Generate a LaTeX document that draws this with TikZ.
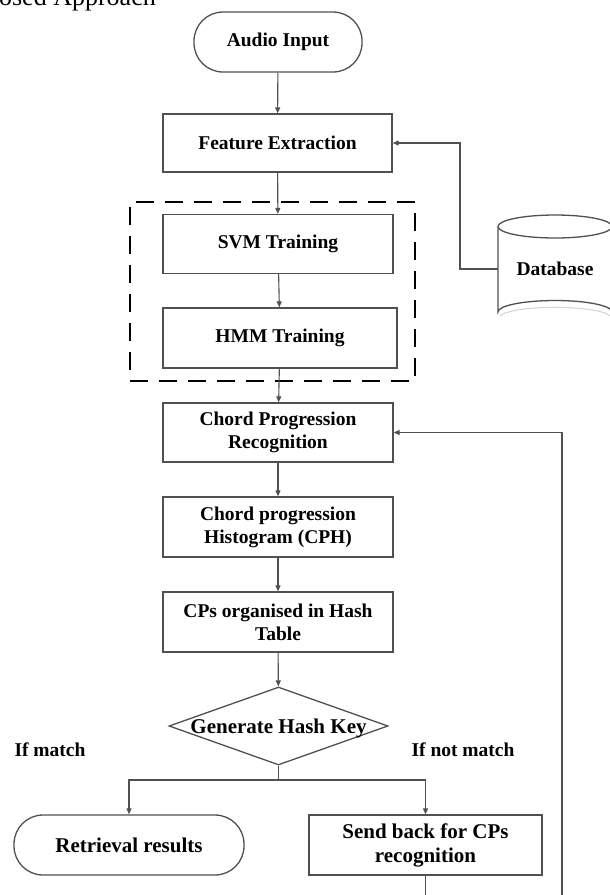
\documentclass[tikz,border=0pt]{standalone}
\usepackage{fontspec}
\setmainfont{Liberation Serif}
\usetikzlibrary{shapes.geometric,arrows.meta}
\definecolor{ln}{HTML}{505050}
\tikzset{
  every node/.style={font=\bfseries\fontsize{19.5}{23}\selectfont, align=center, inner sep=0pt},
  boxstyle/.style={draw=ln, line width=1.3pt, rectangle, minimum width=230pt, minimum height=59pt},
  termstyle/.style={draw=ln, line width=1.3pt, rectangle, rounded corners=29pt},
  conn/.style={draw=ln, line width=1.1pt, -{Triangle[length=6pt,width=5pt]}},
  plainconn/.style={draw=ln, line width=1.1pt},
  bigtext/.style={font=\bfseries\fontsize{21}{24}\selectfont}
}
\begin{document}
\begin{tikzpicture}[x=1pt,y=-1pt]
\useasboundingbox (0,0) rectangle (610,895);
\clip (0,0) rectangle (610,895);
% title (cropped at the top edge, as in the reference)
\node[font=\fontsize{26}{30}\selectfont, anchor=base east] (title) at (156,5) {Proposed Approach};
% nodes
\node[termstyle, minimum width=168pt, minimum height=60pt] (audio) at (278,42) {Audio Input};
\node[boxstyle, minimum width=229pt, minimum height=58pt] (fe) at (277.5,143) {Feature Extraction};
\node[draw=black, line width=1.5pt, dash pattern=on 18pt off 11pt, minimum width=285pt, minimum height=179pt] (grp) at (272.5,291.5) {};
\node[boxstyle, minimum width=230pt, minimum height=59pt] (svm) at (278,244) {SVM Training};
\node[boxstyle, minimum width=234pt, minimum height=60pt] (hmm) at (280,338) {HMM Training};
\node[boxstyle] (cpr) at (278,432.5) {Chord Progression\\Recognition};
\node[boxstyle, minimum height=60pt] (cph) at (278,527) {Chord progression\\Histogram (CPH)};
\node[boxstyle, minimum height=60pt] (hash) at (278,622) {CPs organised in Hash\\Table};
\node[diamond, draw=ln, line width=1.3pt, minimum width=219pt, minimum height=78pt] (dia) at (278.5,726) {};
\node[bigtext] (diatext) at (278.5,728) {Generate Hash Key};
\node (ifm) at (50,750) {If match};
\node (ifnm) at (463,750) {If not match};
\node[termstyle, bigtext, minimum width=230pt, minimum height=60pt] (ret) at (129,845) {Retrieval results};
\node[boxstyle, bigtext, minimum width=233pt, minimum height=60pt] (send) at (425.5,845) {Send back for CPs\\recognition};
% database cylinder
\node[minimum width=114pt, minimum height=108pt] (db) at (555,269) {};
\draw[ln, line width=1.3pt, fill=white] (498,226.5) -- (498,312) arc[start angle=180,end angle=360,x radius=57,y radius=11.5] -- (612,226.5);
\draw[ln, line width=1.3pt] (555,226.5) ellipse[x radius=57,y radius=11.5];
\draw[gray!35, line width=1pt] (500,316) arc[start angle=190,end angle=350,x radius=56,y radius=10.5];
\node (dbtext) at (db) {Database};
% connectors
\draw[conn] (audio) -- (fe);
\draw[conn] (fe) -- (svm);
\draw[conn] (svm) -- (hmm);
\draw[conn] (hmm) -- (cpr);
\draw[conn] (cpr) -- (cph);
\draw[conn] (cph) -- (hash);
\draw[conn] (hash) -- (dia);
\draw[conn] (db.west) -- (460,269) |- (fe.east);
\coordinate (split) at (278.5,780);
\draw[plainconn] (dia.south) -- (split);
\draw[conn] (split) -| (ret.north);
\draw[conn] (split) -| (send.north);
\coordinate (loopcorner) at (562,910);
\draw[conn] (send.south) |- (loopcorner) |- (cpr.east);
\end{tikzpicture}
\end{document}
